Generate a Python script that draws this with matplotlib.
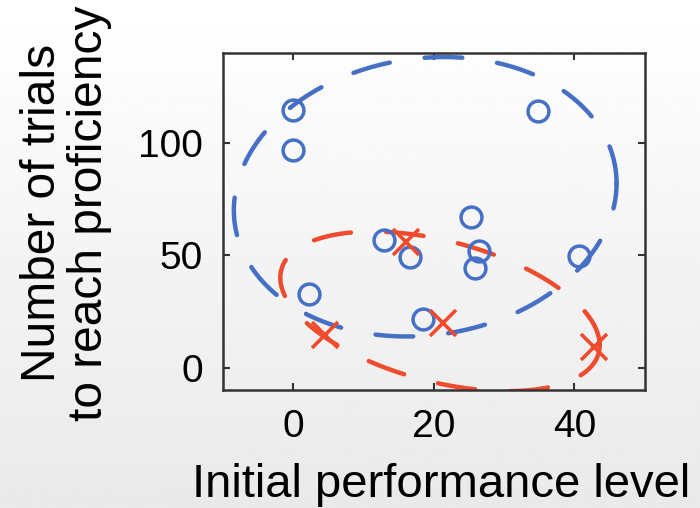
import numpy as np
import matplotlib
matplotlib.use('Agg')
import matplotlib.pyplot as plt

plt.rcParams['font.family'] = ['Liberation Sans', 'DejaVu Sans']

# group 1 (blue circles)
circ_x = [0, 0, 34.8, 12.9, 16.7, 25.3, 26.4, 25.9, 40.7, 2.3, 18.5]
circ_y = [114.5, 97, 114.2, 56.6, 49.1, 67, 51.8, 44.3, 49.8, 32.6, 21.8]
# group 2 (red crosses)
cross_x = [4.6, 16.0, 21.4, 42.8]
cross_y = [14.4, 55.8, 19.9, 9]

# ellipse outlines: center, x half-width, y terms (cos / sin)
blue_ell = dict(cx=18.8, cy=76, a=27.2, b=6, c=61.9)
red_ell = dict(cx=20.9, cy=25, a=22.7, b=-15, c=32.2)

xticks = [0, 20, 40]
yticks = [0, 50, 100]

blue = '#4570C6'
red = '#F04B2D'


def ellipse_pts(e, n=400):
    t = np.linspace(0, 2 * np.pi, n)
    return e['cx'] + e['a'] * np.cos(t), e['cy'] + e['b'] * np.cos(t) + e['c'] * np.sin(t)


fig = plt.figure(figsize=(7, 5.08), dpi=100)

# soft slide-style gradient behind everything
bg = fig.add_axes([0, 0, 1, 1], zorder=0)
grad = np.linspace(1.0, 0.915, 256).reshape(-1, 1)
bg.imshow(grad, aspect='auto', cmap='gray', vmin=0, vmax=1, extent=[0, 1, 0, 1])
bg.axis('off')

ax = fig.add_axes([0.318, 0.2323, 0.603, 0.6634], zorder=1)
ax.set_facecolor('none')

ex, ey = ellipse_pts(blue_ell)
ax.plot(ex, ey, color=blue, lw=3.2, dashes=(8.5, 7.9), dash_capstyle='round')
ex, ey = ellipse_pts(red_ell)
ax.plot(ex, ey, color=red, lw=3.2, dashes=(8.5, 7.9), dash_capstyle='round')

ax.plot(circ_x, circ_y, 'o', ms=15, mfc='none', mec=blue, mew=2.5)
ax.plot(cross_x, cross_y, 'x', ms=19, mec=red, mew=2.6)

ax.set_xlim(-10, 50)
ax.set_ylim(-10, 140)
ax.set_xticks(xticks)
ax.set_yticks(yticks)
ax.tick_params(direction='in', length=5, width=1.5, color='#333333',
               top=True, right=True, labelsize=28, pad=14)
for s in ax.spines.values():
    s.set_color('#333333')
    s.set_linewidth(1.8)

fig.text(441.5 / 700, 1 - 497 / 508, 'Initial performance level', fontsize=34,
         ha='center', va='baseline')
fig.text(66 / 700, 1 - 213 / 508, 'Number of trials\nto reach proficiency', fontsize=34.5,
         rotation=90, ha='center', va='center', multialignment='center', linespacing=1.05)

fig.savefig('out.png', dpi=100)
